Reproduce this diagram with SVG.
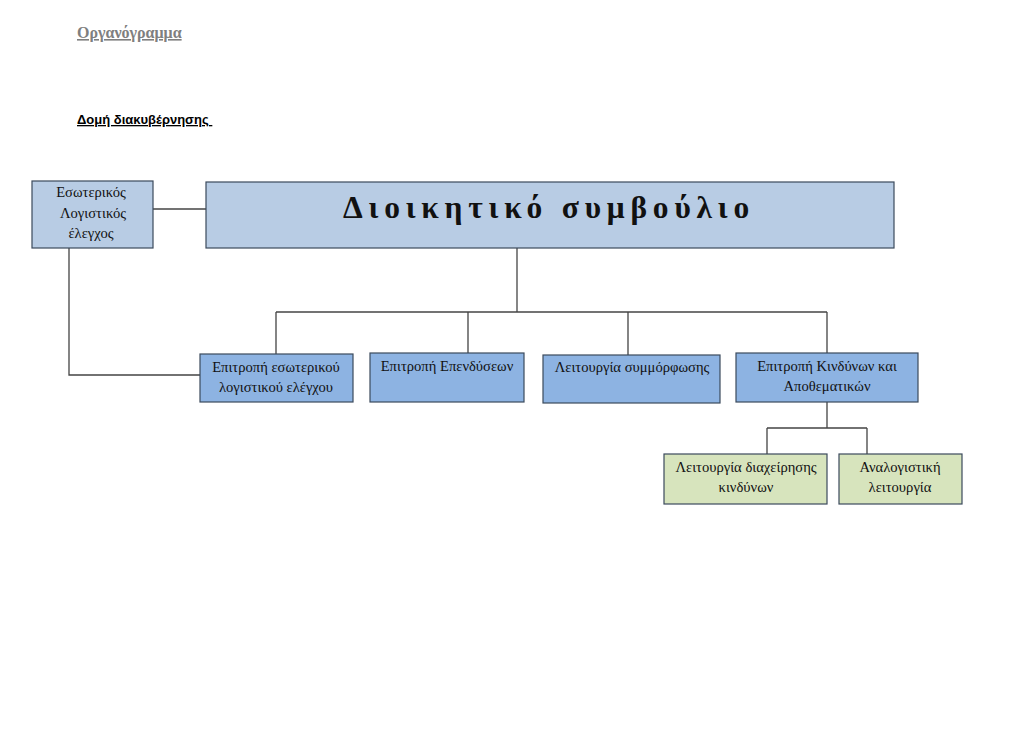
<svg xmlns="http://www.w3.org/2000/svg" width="1024" height="750" viewBox="0 0 1024 750">
<style>
.bx{stroke:#3b4a5c;stroke-width:1.2}
.lb{fill:#b8cce4}
.md{fill:#8db3e2}
.gr{fill:#d7e4bd}
.t{font-family:"Liberation Serif","Times New Roman",serif;font-size:14.6px;fill:#111;text-anchor:middle}
.c{stroke:#444;stroke-width:1.3;fill:none}
</style>
<rect width="1024" height="750" fill="#fff"/>
<text x="77" y="38" font-family="Liberation Serif,serif" font-weight="bold" font-size="16" fill="#7f7f7f" text-decoration="underline">Οργανόγραμμα</text>
<text x="77" y="124" font-family="Liberation Sans,Arial,sans-serif" font-weight="bold" font-size="13" fill="#000" text-decoration="underline" xml:space="preserve">Δομή διακυβέρνησης </text>
<g id="connectors">
<path class="c" d="M153 209H206"/>
<path class="c" d="M517 248V312"/>
<path class="c" d="M276 312H827"/>
<path class="c" d="M276 312V354M468 312V353M628 312V355M827 312V353"/>
<path class="c" d="M827 402V428M767 428H867M767 428V454M867 428V454"/>
<path class="c" d="M69 248V375H200"/>
</g>
<g id="n-ext">
<rect class="bx lb" x="32" y="181" width="121" height="67"/>
<text class="t" x="91" y="197">Εσωτερικός</text>
<text class="t" x="93" y="218">Λογιστικός</text>
<text class="t" x="91" y="238">έλεγχος</text>
</g>
<g id="n-board">
<rect class="bx lb" x="206" y="182" width="688" height="66"/>
<text x="549" y="218" font-family="Liberation Serif,serif" font-weight="bold" font-size="31.5" letter-spacing="5.8" text-anchor="middle" fill="#111">Διοικητικό συμβούλιο</text>
</g>
<g id="n-audit">
<rect class="bx md" x="200" y="354" width="153" height="48"/>
<text class="t" x="276" y="372">Επιτροπή εσωτερικού</text>
<text class="t" x="276" y="392">λογιστικού ελέγχου</text>
</g>
<g id="n-invest">
<rect class="bx md" x="370" y="353" width="154" height="49"/>
<text class="t" x="447" y="371">Επιτροπή Επενδύσεων</text>
</g>
<g id="n-compliance">
<rect class="bx md" x="543" y="355" width="177" height="48"/>
<text class="t" x="632" y="372">Λειτουργία συμμόρφωσης</text>
</g>
<g id="n-risk">
<rect class="bx md" x="736" y="353" width="182" height="49"/>
<text class="t" x="827" y="371">Επιτροπή Κινδύνων και</text>
<text class="t" x="827" y="391">Αποθεματικών</text>
</g>
<g id="n-riskmgmt">
<rect class="bx gr" x="664" y="454" width="163" height="50"/>
<text class="t" x="746" y="472">Λειτουργία διαχείρησης</text>
<text class="t" x="746" y="492">κινδύνων</text>
</g>
<g id="n-actuarial">
<rect class="bx gr" x="839" y="454" width="123" height="50"/>
<text class="t" x="900" y="472">Αναλογιστική</text>
<text class="t" x="900" y="492">λειτουργία</text>
</g>
</svg>
